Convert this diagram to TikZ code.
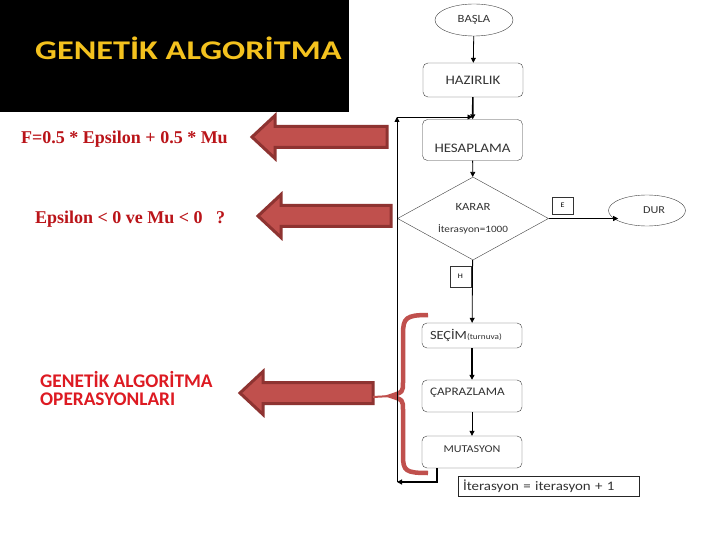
\documentclass[tikz,border=0pt]{standalone}
\usepackage{fontspec}
\setmainfont{Liberation Serif}
\newfontfamily\titlefont[FakeStretch=1.27]{Carlito}
\newfontfamily\chartfont[FakeStretch=1.15]{Carlito}
\newfontfamily\opfont{Carlito}
\usetikzlibrary{arrows.meta,shapes.geometric}

\definecolor{titlegold}{HTML}{F4C21E}
\definecolor{arrowfill}{HTML}{C0504D}
\definecolor{arrowedge}{HTML}{8E3331}
\definecolor{formred}{HTML}{BA1419}
\definecolor{opred}{HTML}{DD1A22}

\begin{document}
\begin{tikzpicture}[x=1pt,y=-1pt,
  chartbox/.style={draw=black!75,rounded corners=5pt,minimum width=100pt,inner sep=1pt,text=black!80},
  oval/.style={draw=black!75,ellipse,inner sep=0pt,text=black!80},
  tagbox/.style={draw=black!80,minimum width=21pt,minimum height=17pt,inner sep=0pt,font=\chartfont\fontsize{7}{8}\selectfont},
  flow/.style={draw=black,line width=0.8pt,-{Triangle[length=5pt,width=5pt]}},
  flowthick/.style={flow,line width=1.6pt},
  blockarrow/.style={draw=arrowedge,fill=arrowfill,line width=3pt}]

\fill[white] (0,0) rectangle (720,540);
\useasboundingbox (0,0) rectangle (720,540);

% Title block
\fill[black] (0,0) rectangle (349,112);
\node[anchor=base west,inner sep=0pt,text=titlegold,font=\titlefont\bfseries\fontsize{27}{30}\selectfont] (title) at (35,60) {GENETİK ALGORİTMA};

% Notes on the left
\node[anchor=base west,inner sep=0pt,text=formred,font=\bfseries\fontsize{18}{20}\selectfont] (fitness) at (21,144) {F=0.5 * Epsilon + 0.5 * Mu};
\node[anchor=base west,inner sep=0pt,text=formred,font=\bfseries\fontsize{18}{20}\selectfont] (cond) at (35,223) {Epsilon < 0 ve Mu < 0\ \ \ ?};
\node[anchor=west,inner sep=0pt,text=opred,align=left,font=\opfont\bfseries\fontsize{19.3}{18}\selectfont] (ops) at (40,388.5) {GENETİK ALGORİTMA\\OPERASYONLARI};

% Block arrows
\foreach \tx/\ty/\rx in {252/137/387, 258/216/391, 240/393/373}
  \draw[blockarrow] (\tx,\ty) -- (\tx+23,\ty-21.5) -- (\tx+23,\ty-10.5) -- (\rx,\ty-10.5)
    -- (\rx,\ty+10.5) -- (\tx+23,\ty+10.5) -- (\tx+23,\ty+21.5) -- cycle;

% Brace around the operators
\draw[arrowfill,line width=4.5pt] (428,315) .. controls (406,315) and (403,318) .. (403,334) -- (403,382)
  .. controls (403,392) .. (391,396) .. controls (403,400) .. (403,410) -- (403,456)
  .. controls (403,471) and (406,473) .. (428,473);
\draw[arrowfill,line width=2pt] (373,397) -- (391,396);

% Flowchart
\node[oval,minimum width=78pt,minimum height=32pt,font=\chartfont\fontsize{11}{13}\selectfont] (basla) at (474,20) {BAŞLA};
\node[chartbox,minimum height=34pt,font=\chartfont\fontsize{13}{15}\selectfont] (hazirlik) at (473,80) {HAZIRLIK};
\node[chartbox,minimum height=41pt,inner ysep=4pt,text height=29pt,text depth=4pt,font=\chartfont\fontsize{13}{15}\selectfont] (hesaplama) at (472.5,140) {HESAPLAMA};
\node[draw=black!75,diamond,shape aspect=1.8,minimum width=151pt,minimum height=83pt,inner sep=0pt,align=center,text=black!80,font=\chartfont\fontsize{11}{13}\selectfont] (karar) at (473,218.5) {KARAR\\[9pt]{\fontsize{9.7}{11}\selectfont İterasyon=1000}};
\node[tagbox] (ebox) at (562.5,205.5) {E};
\node[oval,minimum width=77pt,minimum height=31pt,font=\chartfont\fontsize{10.6}{12}\selectfont] (dur) at (647,210.5) {\hspace*{14pt}DUR};
\node[tagbox,minimum height=21pt] (hbox) at (460.5,276.5) {H};
\node[chartbox,minimum height=25pt,text width=84pt,align=left,inner xsep=8pt,font=\chartfont] (secim) at (472,335.5) {{\fontsize{12.5}{15}\selectfont SEÇİM}{\fontsize{8}{10}\selectfont(turnuva)}};
\node[chartbox,minimum height=32pt,text width=84pt,align=left,inner xsep=8pt,inner ysep=4pt,text height=11pt,text depth=13pt,font=\chartfont\fontsize{11.5}{14}\selectfont] (capraz) at (472,396) {ÇAPRAZLAMA};
\node[chartbox,minimum height=32pt,inner ysep=4pt,text height=12pt,text depth=12pt,font=\chartfont\fontsize{10.5}{13}\selectfont] (mutasyon) at (472,452) {MUTASYON};
\node[draw=black!85,minimum width=181pt,minimum height=20pt,text width=171pt,align=left,inner xsep=5pt,inner ysep=0pt,text=black!80,font=\chartfont\fontsize{13}{15}\selectfont] (iterbox) at (548.5,486) {İterasyon = iterasyon + 1};

\draw[flow] (basla) -- (hazirlik);
\draw[flowthick] (hazirlik) -- (hesaplama);
\draw[flow] (hesaplama) -- (karar);
\draw[flow] (karar.east) -- (karar.east -| dur.200);
\draw[flow] (karar) -- (secim);
\draw[flowthick] (secim) -- (capraz);
\draw[flow] (capraz) -- (mutasyon);

% Loop back to HESAPLAMA
\coordinate (loopfoot) at (397,482);
\coordinate (loophead) at (397,117);
\draw[flow,line width=1.2pt] ([xshift=-35pt]mutasyon.south) |- (loopfoot);
\draw[flow] (loopfoot) -- (loophead);
\draw[flow] (loophead) -- (loophead -| hesaplama.north);

\end{tikzpicture}
\end{document}
